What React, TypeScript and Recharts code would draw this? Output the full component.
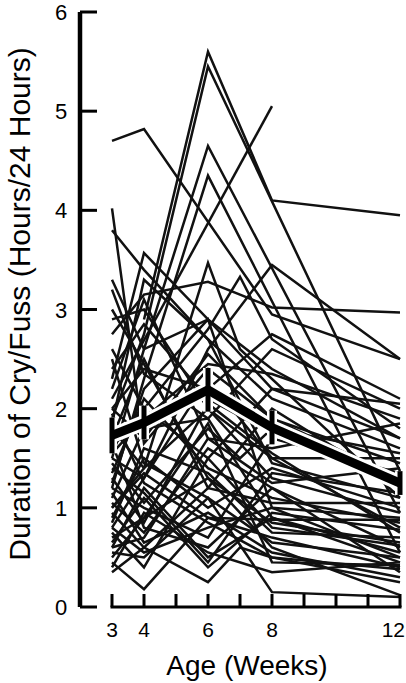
import React from "react";
import { LineChart, Line, XAxis, YAxis, ReferenceLine, ErrorBar } from "recharts";

// weeks at which infants were measured
const weeks = [3, 4, 6, 7, 8, 12];

// one row per infant, values in hours/24 hours (null = not measured)
const infants: (number | null)[][] = [
  [4.7, 4.82, null, null, 2.95, 2.5],
  [null, 2.9, 5.6, null, 4.1, 3.95],
  [1.9, 2.75, 5.45, null, null, 1.37],
  [1.5, 2.6, 4.65, null, null, 0.95],
  [1.2, 2.3, 4.35, null, null, 0.55],
  [2.1, null, null, null, 5.05, null],
  [4.02, 1.65, 2.4, null, 1.9, 1.3],
  [3.8, 3.4, 2.7, null, 2.1, 1.6],
  [2.75, 3.15, 3.28, 3.15, 3.02, 2.97],
  [2.9, 3.0, 2.0, null, 1.5, 0.8],
  [1.0, 1.4, 3.47, 2.6, null, 1.1],
  [1.6, 2.0, 2.8, 3.33, 2.7, 1.8],
  [3.3, 2.6, 2.9, null, 2.2, 2.05],
  [2.3, 3.57, 2.9, null, 2.4, 1.7],
  [0.8, 1.3, 2.6, null, 3.45, 2.5],
  [2.0, 2.4, 2.2, null, 2.75, 2.1],
  [0.45, 0.18, 0.9, null, 0.7, 0.4],
  [0.35, 0.6, 0.25, 0.6, 0.5, 0.38],
  [0.55, 0.5, 1.1, null, 0.15, 0.1],
  [0.6, 1.2, 0.5, null, 0.9, 0.45],
  [0.7, 0.9, 1.3, null, 0.6, 0.12],
  [0.8, 0.55, 0.8, null, 1.0, 0.9],
  [0.9, 1.5, 1.0, null, 1.4, 1.0],
  [1.05, 0.75, 1.6, null, 1.2, 0.6],
  [1.1, 1.8, 1.9, null, 0.9, 0.55],
  [1.2, 1.0, 0.7, null, 1.7, 1.35],
  [1.35, 2.1, 1.4, null, 1.1, 0.85],
  [1.5, 1.3, 2.3, null, 1.5, 1.5],
  [1.7, 2.5, 1.2, null, 2.0, 1.2],
  [1.8, 1.4, 2.0, null, 1.3, 0.95],
  [2.0, 1.7, 2.55, null, 1.9, 1.45],
  [2.2, 3.1, 1.7, null, 1.6, 1.85],
  [2.6, 2.0, 1.5, null, 2.2, 1.7],
  [0.5, 0.9, 1.85, null, 0.45, 0.42],
  [0.65, 1.1, 0.4, null, 0.95, 0.78],
  [0.95, 0.6, 1.2, null, 1.05, 1.05],
  [1.0, 1.35, 0.9, null, 0.88, 0.88],
  [1.25, 2.2, 2.9, null, 1.0, 0.5],
  [1.45, 1.05, 1.8, 1.5, 1.8, 1.55],
  [1.55, 1.9, 2.45, null, 2.35, 1.9],
  [2.4, 2.85, 2.1, null, 1.75, 1.25],
  [1.65, 0.8, 0.6, null, 1.2, 0.35],
  [3.2, 2.35, 1.9, null, 2.6, 2.0],
  [0.75, 0.4, 1.5, null, 0.8, 0.62],
  [1.85, 3.3, 2.7, null, 1.45, 1.1],
  [0.4, 0.95, 0.55, null, 0.35, 0.45],
  [1.15, 0.65, 0.95, null, 0.55, 0.3],
  [0.85, 1.6, 1.35, null, 0.75, 0.7],
  [1.4, 1.15, 0.45, null, 1.35, 1.15],
  [2.5, 1.45, 1.1, null, 0.65, 0.5],
  [1.3, 0.85, 2.05, null, 1.55, 0.75],
  [0.6, 0.7, 1.7, null, 1.25, 1.4],
  [3.0, 2.45, 1.3, null, 0.85, 0.65],
  [1.95, 1.25, 0.85, null, 0.5, 0.25],
];

// group mean with error bars
const meanWeeks = [3, 4, 6, 8, 12];
const meanValues = [1.73, 1.86, 2.19, 1.81, 1.25];
const meanErrors = [0.18, 0.17, 0.22, 0.17, 0.12];

const xTicks = [3, 4, 5, 6, 7, 8, 9, 10, 11, 12];
const xLabels = [3, 4, 6, 8, 12];
const yTicks = [0, 1, 2, 3, 4, 5, 6];

const rows = weeks.map((week, i) => {
  const row: Record<string, number | null> = { week };
  infants.forEach((s, j) => {
    row["s" + j] = s[i];
  });
  return row;
});

const meanRows = meanWeeks.map((week, i) => ({
  week,
  mean: meanValues[i],
  err: meanErrors[i],
}));

const FONT = "'Liberation Sans', Arial, Helvetica, sans-serif";

const XTick = (props: any) => {
  const { x, y, payload } = props;
  const showLabel = xLabels.includes(payload.value);
  const last = payload.value === 12;
  return (
    <g>
      <line x1={x} y1={y} x2={x} y2={y - 13} stroke="#000" strokeWidth={3} />
      {showLabel && (
        <text
          x={last ? x + 5 : x}
          y={y + 30}
          textAnchor={last ? "end" : "middle"}
          fontSize={21}
          fontFamily={FONT}
          fill="#000"
        >
          {payload.value}
        </text>
      )}
    </g>
  );
};

const YTick = (props: any) => {
  const { x, y, payload } = props;
  return (
    <g>
      <line x1={x} y1={y} x2={x + 17} y2={y} stroke="#000" strokeWidth={3} />
      <text x={x - 19} y={y + 8} textAnchor="middle" fontSize={22} fontFamily={FONT} fill="#000">
        {payload.value}
      </text>
    </g>
  );
};

export default function App() {
  return (
    <div style={{ position: "absolute", left: 0, top: 0, background: "#fff" }}>
      <LineChart
        width={406}
        height={683}
        data={rows}
        margin={{ top: 12, right: 4, bottom: 0, left: 0 }}
      >
        <XAxis
          dataKey="week"
          type="number"
          domain={[3, 12]}
          ticks={xTicks}
          interval={0}
          padding={{ left: 32, right: 2 }}
          height={76}
          axisLine={false}
          tickLine={false}
          tickSize={0}
          tickMargin={0}
          tick={<XTick />}
          label={{
            content: () => (
              <text x={247} y={675} textAnchor="middle" fontSize={28} fontFamily={FONT} fill="#000">
                Age (Weeks)
              </text>
            ),
          }}
        />
        <YAxis
          type="number"
          domain={[0, 6]}
          ticks={yTicks}
          interval={0}
          width={80}
          axisLine={{ stroke: "#000", strokeWidth: 4.5 }}
          tickLine={false}
          tickSize={0}
          tickMargin={0}
          tick={<YTick />}
          label={{
            content: () => (
              <text
                x={30}
                y={304}
                transform="rotate(-90 30 304)"
                textAnchor="middle"
                fontSize={30}
                fontFamily={FONT}
                fill="#000"
              >
                Duration of Cry/Fuss (Hours/24 Hours)
              </text>
            ),
          }}
        />
        <ReferenceLine
          segment={[
            { x: 3, y: 0 },
            { x: 12, y: 0 },
          ]}
          stroke="#000"
          strokeWidth={3}
          strokeLinecap="square"
        />
        {infants.map((_, j) => (
          <Line
            key={"s" + j}
            dataKey={"s" + j}
            type="linear"
            stroke="#111"
            strokeWidth={2.5}
            dot={false}
            connectNulls
            isAnimationActive={false}
          />
        ))}
        <Line
          data={meanRows}
          dataKey="mean"
          type="linear"
          stroke="#fff"
          strokeWidth={15}
          dot={false}
          isAnimationActive={false}
        >
          <ErrorBar dataKey="err" width={0} stroke="#fff" strokeWidth={10} direction="y" />
        </Line>
        <Line
          data={meanRows}
          dataKey="mean"
          type="linear"
          stroke="#000"
          strokeWidth={9}
          dot={false}
          isAnimationActive={false}
        >
          <ErrorBar dataKey="err" width={0} stroke="#000" strokeWidth={5} direction="y" />
        </Line>
      </LineChart>
    </div>
  );
}
